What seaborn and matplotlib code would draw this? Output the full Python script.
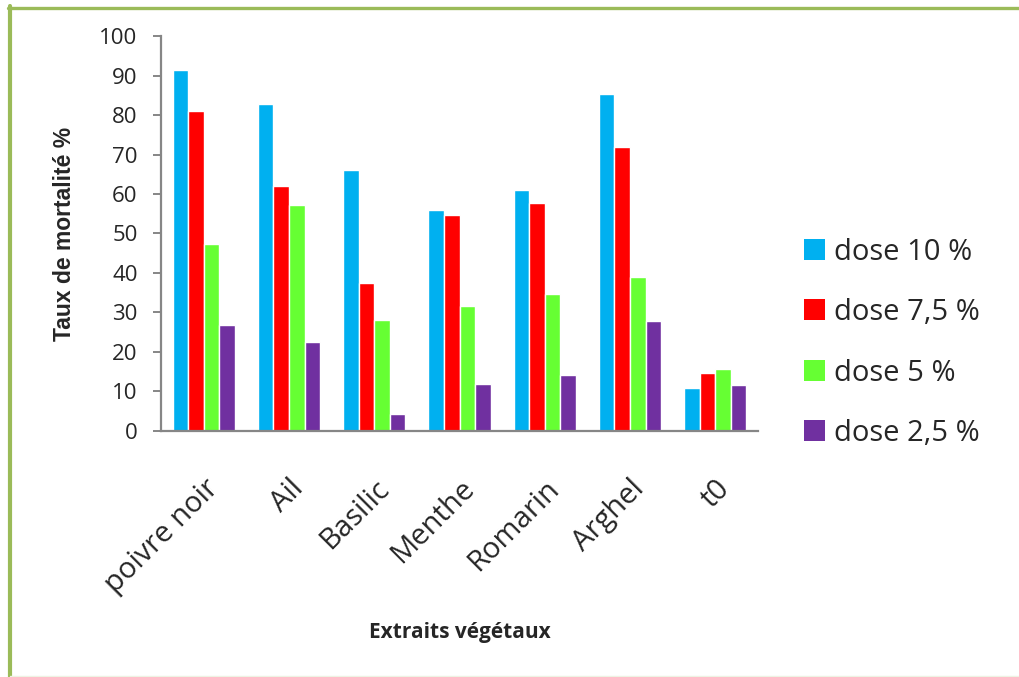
import matplotlib
matplotlib.use("Agg")
import matplotlib.pyplot as plt
from matplotlib.lines import Line2D
from matplotlib.patches import Patch
import seaborn as sns
import pandas as pd

# Mortality rates (%) per plant extract and dose
extraits = ["poivre noir", "Ail", "Basilic", "Menthe", "Romarin", "Arghel", "t0"]
doses = ["dose 10 %", "dose 7,5 %", "dose 5 %", "dose 2,5 %"]
dose_10 = [91.3, 82.7, 66.1, 56.0, 61.0, 85.4, 10.8]
dose_7_5 = [81.1, 61.9, 37.5, 54.8, 57.7, 71.8, 14.8]
dose_5 = [47.3, 57.1, 28.1, 31.7, 34.6, 39.0, 15.6]
dose_2_5 = [26.8, 22.6, 4.2, 12.0, 14.2, 27.9, 11.6]
couleurs = ["#00B0F0", "#FF0000", "#66FF33", "#7030A0"]

rows = []
for dose, vals in zip(doses, [dose_10, dose_7_5, dose_5, dose_2_5]):
    for ext, v in zip(extraits, vals):
        rows.append({"Extrait": ext, "Dose": dose, "Taux": v})
df = pd.DataFrame(rows)

sns.set_theme(style="white")
plt.rcParams["font.family"] = ["Open Sans", "DejaVu Sans"]

fig = plt.figure(figsize=(10.2, 6.77), dpi=100)
ax = fig.add_axes([0.158, 0.3634, 0.585, 0.5834])

sns.barplot(data=df, x="Extrait", y="Taux", hue="Dose", order=extraits,
            hue_order=doses, palette=couleurs, width=0.73, dodge=True,
            errorbar=None, saturation=1, legend=False, ax=ax)

ax.set_xlim(-0.5, len(extraits) - 0.5)
ax.set_ylim(0, 100)
ax.set_yticks(range(0, 101, 10))

for side in ["top", "right"]:
    ax.spines[side].set_visible(False)
for side in ["left", "bottom"]:
    ax.spines[side].set_color("#868686")
    ax.spines[side].set_linewidth(1.6)

ax.tick_params(axis="y", direction="out", length=6, width=1.4,
               color="#868686", labelsize=16, pad=11, left=True)
ax.tick_params(axis="x", length=0, labelsize=21, pad=31)
for lab in ax.get_xticklabels():
    lab.set_rotation(45)
    lab.set_ha("right")
    lab.set_rotation_mode("anchor")

ax.set_xlabel("Extraits végétaux", fontsize=15, fontweight="bold")
ax.xaxis.set_label_coords(0.5, -0.4835)
ax.set_ylabel("Taux de mortalité %", fontsize=16.5, fontweight="bold",
              family=["Liberation Sans", "DejaVu Sans"])
ax.yaxis.set_label_coords(-0.142, 0.5)

handles = [Patch(facecolor=c, edgecolor="none") for c in couleurs]
fig.legend(handles, doses, loc="center left",
           bbox_to_anchor=(804 / 1020, 1 - 342.75 / 677),
           frameon=False, fontsize=21, handlelength=0.72, handleheight=0.72,
           handletextpad=0.31, labelspacing=1.08, borderaxespad=0,
           borderpad=0)

# Green frame around the chart area
green = "#9BBB59"
fig.add_artist(Line2D([8 / 1020, 1.0], [1 - 7.5 / 677] * 2, color=green,
                      lw=2.4, transform=fig.transFigure))
fig.add_artist(Line2D([10 / 1020] * 2, [0, 1 - 6 / 677], color=green,
                      lw=3.0, transform=fig.transFigure))
fig.add_artist(Line2D([10 / 1020, 1.0], [1 / 677] * 2, color="#EEF3E3",
                      lw=1.0, transform=fig.transFigure))

fig.savefig("out.png", dpi=100)
